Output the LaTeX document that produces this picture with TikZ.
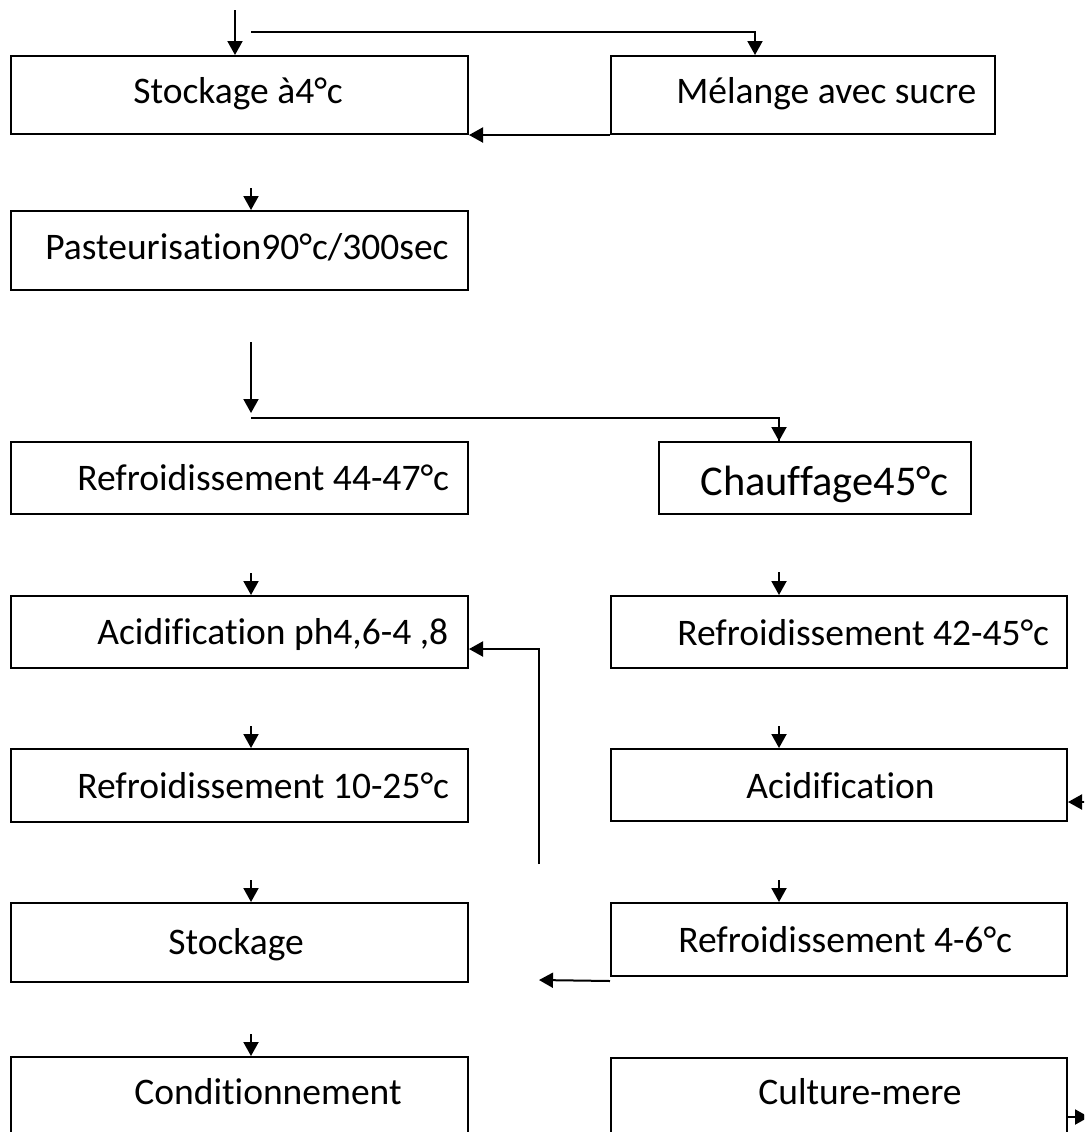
\documentclass[tikz,border=0pt]{standalone}
\usepackage{fontspec}
\setmainfont{Carlito}[Ligatures={NoCommon}]
\usetikzlibrary{arrows.meta}
\begin{document}
\begin{tikzpicture}[x=0.5pt,y=-0.5pt,
  box/.style={draw, line width=1pt, inner sep=0pt, minimum width=228.5pt, minimum height=39pt},
  lbl/.style={anchor=base west, inner sep=0pt, font=\fontsize{18.75pt}{22pt}\selectfont},
  biglbl/.style={anchor=base west, inner sep=0pt, font=\fontsize{21.2pt}{25pt}\selectfont},
  flow/.style={line width=1pt, -{Triangle[length=7pt,width=7.5pt]}},
  link/.style={line width=1pt}]

\useasboundingbox (0,0) rectangle (1084,1132);
\fill[white] (0,0) rectangle (1084,1132);
\clip (0,0) rectangle (1084,1132);

% process steps, left column
\node[box] (b1) at (239.5,95) {};
\node[box, minimum height=39.5pt] (b3) at (239.5,250.5) {};
\node[box, minimum height=36pt] (b4) at (239.5,478) {};
\node[box, minimum height=36pt] (b6) at (239.5,632) {};
\node[box, minimum height=36.5pt] (b8) at (239.5,785.5) {};
\node[box, minimum height=39.5pt] (b10) at (239.5,942.5) {};
\node[box, minimum height=39.5pt] (b12) at (239.5,1096.5) {};

% process steps, right column
\node[box, minimum width=192pt] (b2) at (803,95) {};
\node[box, minimum width=156pt, minimum height=36pt] (b5) at (815,478) {};
\node[box, minimum width=228pt, minimum height=36pt] (b7) at (839,632) {};
\node[box, minimum width=228pt, minimum height=36pt] (b9) at (839,785) {};
\node[box, minimum width=228pt, minimum height=36.5pt] (b11) at (839,939.5) {};
\node[box, minimum width=228pt, minimum height=39.5pt] (b13) at (839,1097.5) {};

% labels
\node[lbl] (t1) at (133,103) {Stockage à4°c};
\node[lbl] (t2) at (676,103) {Mélange avec sucre};
\node[lbl] (t3) at (45,259) {Pasteurisation90°c/300sec};
\node[lbl] (t4) at (77,490) {Refroidissement 44-47°c};
\node[biglbl] (t5) at (700,495) {Chauffage45°c};
\node[lbl] (t6) at (97,644) {Acidification ph4,6-4 ,8};
\node[lbl] (t7) at (677,645) {Refroidissement 42-45°c};
\node[lbl] (t8) at (77,798) {Refroidissement 10-25°c};
\node[lbl] (t9) at (746,798) {Acidification};
\node[lbl] (t10) at (168,954) {Stockage};
\node[lbl] (t11) at (678,952) {Refroidissement 4-6°c};
\node[lbl] (t12) at (134,1104) {Conditionnement};
\node[lbl] (t13) at (758,1104) {Culture-mere};

% top inputs
\coordinate (s0) at (235,10);
\draw[flow] (s0) -- (s0 |- b1.north);
\coordinate (s1) at (251,32);
\draw[flow] (s1) -| ([xshift=-24pt]b2.north);
\draw[flow] (b2.south west) -- (b1.south east);

% left column chain
\coordinate (s2) at (251,188);
\draw[flow] (s2) -- (s2 |- b3.north);
\coordinate (s3) at (251,342);
\draw[flow] (s3) -- (251,413);
\coordinate (s4) at (251,418);
\draw[link] (s4) -| ([xshift=-18pt]b5.north);
\draw[flow] ([xshift=-18pt]b5.north |- 0,418) -- ([xshift=-18pt]b5.north);
\coordinate (s5) at (251,573);
\draw[flow] (s5) -- (s5 |- b6.north);
\coordinate (s6) at (251,726);
\draw[flow] (s6) -- (s6 |- b8.north);
\coordinate (s7) at (251,880);
\draw[flow] (s7) -- (s7 |- b10.north);
\coordinate (s8) at (251,1034);
\draw[flow] (s8) -- (s8 |- b12.north);

% right column chain
\coordinate (r1) at (779,572);
\draw[flow] (r1) -- (r1 |- b7.north);
\coordinate (r2) at (779,726);
\draw[flow] (r2) -- (r2 |- b9.north);
\coordinate (r3) at (779,880);
\draw[flow] (r3) -- (r3 |- b11.north);

% return lines
\coordinate (u0) at (539,864);
\draw[flow] (u0) |- ([yshift=-8.5pt]b6.east);
\coordinate (u1) at (539,980);
\draw[flow] ([yshift=-2pt]b11.south west) -- (u1);
\coordinate (e0) at (1110,802);
\draw[flow] (e0) -- (e0 -| b9.east);
\coordinate (e1) at (1089,1117);
\draw[flow] (e1 -| b13.east) -- (e1);
\end{tikzpicture}
\end{document}
